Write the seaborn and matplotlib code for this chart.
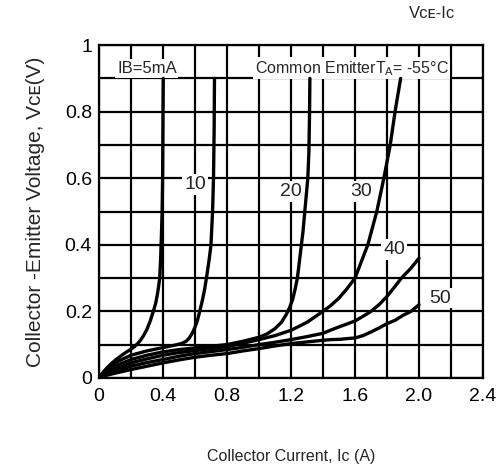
import numpy as np
import pandas as pd
import matplotlib
matplotlib.use("Agg")
import matplotlib.pyplot as plt
import seaborn as sns

# ---- data ----
ib_labels = ["5mA", "10", "20", "30", "40", "50"]

ic_5 = [0, 0.02, 0.05, 0.08, 0.11, 0.14, 0.17, 0.2, 0.22, 0.24, 0.26, 0.28, 0.30, 0.32, 0.34,
        0.355, 0.365, 0.373, 0.38, 0.385, 0.39, 0.395, 0.398, 0.4, 0.402]
vce_5 = [0, 0.013, 0.03, 0.044, 0.056, 0.067, 0.077, 0.086, 0.093, 0.102, 0.113, 0.128, 0.146,
         0.17, 0.2, 0.225, 0.25, 0.275, 0.3, 0.35, 0.42, 0.5, 0.6, 0.75, 0.9]

ic_10 = [0, 0.03, 0.07, 0.12, 0.2, 0.3, 0.4, 0.45, 0.49, 0.52, 0.545, 0.565, 0.585, 0.6, 0.615,
         0.63, 0.645, 0.66, 0.675, 0.69, 0.70, 0.71, 0.716, 0.72, 0.722]
vce_10 = [0, 0.018, 0.035, 0.05, 0.068, 0.081, 0.091, 0.096, 0.1, 0.104, 0.11, 0.12, 0.136, 0.152,
          0.172, 0.2, 0.23, 0.265, 0.31, 0.36, 0.4, 0.5, 0.6, 0.75, 0.9]

ic_20 = [0, 0.05, 0.1, 0.2, 0.3, 0.4, 0.5, 0.6, 0.7, 0.8, 0.9, 1.0, 1.05, 1.1, 1.14, 1.17, 1.19,
         1.21, 1.225, 1.24, 1.25, 1.26, 1.275, 1.29, 1.305, 1.312, 1.316, 1.318]
vce_20 = [0, 0.02, 0.035, 0.055, 0.068, 0.078, 0.085, 0.09, 0.095, 0.1, 0.11, 0.122, 0.132, 0.148,
          0.167, 0.19, 0.21, 0.235, 0.265, 0.3, 0.34, 0.38, 0.44, 0.52, 0.6, 0.68, 0.8, 0.9]

ic_30 = [0, 0.05, 0.1, 0.2, 0.3, 0.4, 0.5, 0.6, 0.7, 0.8, 0.9, 1.0, 1.1, 1.2, 1.3, 1.4, 1.45, 1.5,
         1.55, 1.6, 1.64, 1.68, 1.736, 1.78, 1.82, 1.85, 1.885]
vce_30 = [0, 0.014, 0.026, 0.045, 0.057, 0.068, 0.076, 0.082, 0.088, 0.094, 0.104, 0.115, 0.127,
          0.143, 0.167, 0.2, 0.218, 0.24, 0.268, 0.3, 0.35, 0.4, 0.5, 0.6, 0.7, 0.8, 0.9]

ic_40 = [0, 0.05, 0.1, 0.2, 0.3, 0.4, 0.5, 0.6, 0.7, 0.8, 0.9, 1.0, 1.1, 1.2, 1.3, 1.4, 1.45, 1.51,
         1.55, 1.6, 1.65, 1.7, 1.75, 1.8, 1.85, 1.89, 1.95, 2.0]
vce_40 = [0, 0.011, 0.02, 0.035, 0.046, 0.055, 0.065, 0.073, 0.079, 0.085, 0.092, 0.1, 0.107,
          0.115, 0.124, 0.134, 0.144, 0.155, 0.162, 0.171, 0.185, 0.2, 0.22, 0.245, 0.275, 0.3,
          0.33, 0.36]

ic_50 = [0, 0.05, 0.1, 0.2, 0.3, 0.4, 0.5, 0.6, 0.7, 0.8, 0.9, 1.0, 1.1, 1.2, 1.3, 1.4, 1.45, 1.51,
         1.55, 1.6, 1.65, 1.7, 1.75, 1.8, 1.85, 1.9, 1.95, 2.0]
vce_50 = [0, 0.008, 0.014, 0.025, 0.035, 0.045, 0.054, 0.062, 0.068, 0.073, 0.081, 0.088, 0.096,
          0.103, 0.108, 0.113, 0.115, 0.116, 0.118, 0.12, 0.127, 0.138, 0.15, 0.163, 0.173,
          0.188, 0.2, 0.22]

x_ticks = [0, 0.2, 0.4, 0.6, 0.8, 1.0, 1.2, 1.4, 1.6, 1.8, 2.0, 2.2, 2.4]
x_tick_labels = ["0", "", "0.4", "", "0.8", "", "1.2", "", "1.6", "", "2.0", "", "2.4"]
y_ticks = [0, 0.1, 0.2, 0.3, 0.4, 0.5, 0.6, 0.7, 0.8, 0.9, 1.0]
y_tick_labels = ["0", "", "0.2", "", "0.4", "", "0.6", "", "0.8", "", "1"]

curve_labels = ["10", "20", "30", "40", "50"]
curve_label_x = [0.6, 1.2, 1.64, 1.845, 2.13]
curve_label_y = [0.58, 0.56, 0.56, 0.386, 0.24]

# ---- build table ----
xs = [ic_5, ic_10, ic_20, ic_30, ic_40, ic_50]
ys = [vce_5, vce_10, vce_20, vce_30, vce_40, vce_50]
rows = []
for lab, xv, yv in zip(ib_labels, xs, ys):
    for i, (a, b) in enumerate(zip(xv, yv)):
        rows.append({"IB": lab, "Ic": a, "Vce": b, "order": i})
df = pd.DataFrame(rows)

sns.set_style("white")
plt.rcParams["font.family"] = ["Liberation Sans", "DejaVu Sans"]
plt.rcParams["mathtext.default"] = "regular"

fig = plt.figure(figsize=(4.97, 4.70), dpi=100)
ax = fig.add_axes([0.199, 0.196, 0.773, 0.708])

sns.lineplot(data=df, x="Ic", y="Vce", units="IB", estimator=None, sort=False,
             color="black", linewidth=2.4, ax=ax, legend=False, zorder=4)
for ln in ax.get_lines():
    ln.set_solid_joinstyle("round")
    ln.set_solid_capstyle("round")

ax.set_xlim(0, 2.4)
ax.set_ylim(0, 1.0)
ax.set_xticks(x_ticks)
ax.set_xticklabels(x_tick_labels)
ax.set_yticks(y_ticks)
ax.set_yticklabels(y_tick_labels)
ax.tick_params(length=0, labelsize=14, colors="black")
ax.tick_params(axis="x", pad=7)
ax.tick_params(axis="y", pad=5)
ax.grid(True, color="black", linewidth=1.6, zorder=1)
ax.set_axisbelow(True)
for s in ax.spines.values():
    s.set_color("black")
    s.set_linewidth(1.6)

ax.set_xlabel("Collector Current, Ic (A)", fontsize=11.5, labelpad=32)
ax.set_ylabel("Collector -Emitter Voltage, V\u1d04\u1d07(V)", fontsize=15, labelpad=14)

box = dict(facecolor="white", edgecolor="none", boxstyle="square,pad=0.1")
ax.text(0.3, 0.93, "IB=5mA", fontsize=12, ha="center", va="center", bbox=box, zorder=3)
ax.text(1.58, 0.93, "Common Emitter$T_A$= -55°C", fontsize=11.5, ha="center", va="center",
        bbox=box, zorder=3)
for lab, lx, ly in zip(curve_labels, curve_label_x, curve_label_y):
    ax.text(lx, ly, lab, fontsize=14, ha="center", va="center", bbox=box, zorder=3)

fig.text(432 / 497, 1 - 13 / 470, "V\u1d04\u1d07-Ic", fontsize=12, ha="center", va="center")

fig.savefig("out.png", dpi=100)
